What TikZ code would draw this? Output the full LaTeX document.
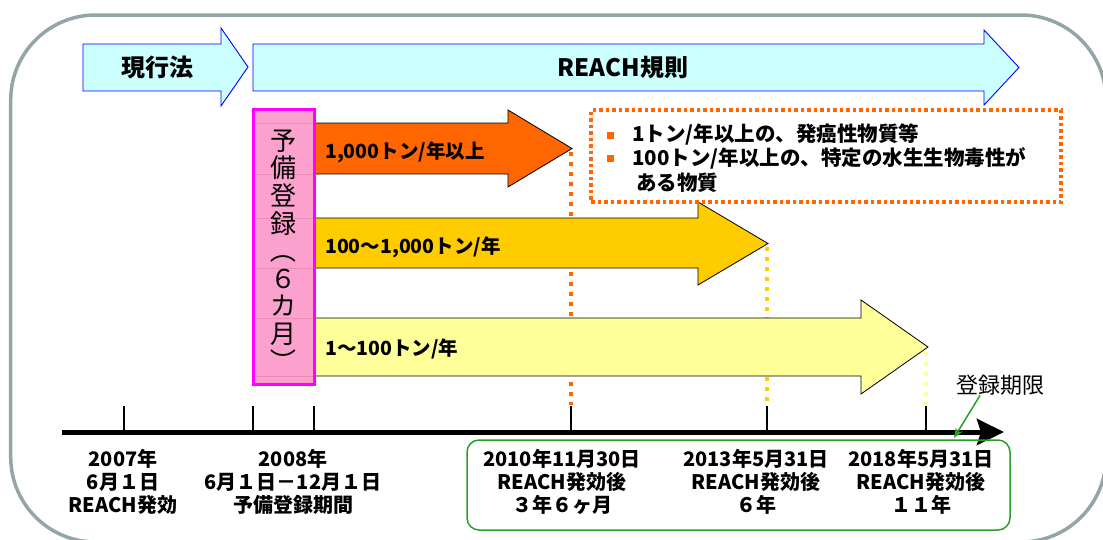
\documentclass[tikz,border=0pt]{standalone}
\usepackage{fontspec}
\usepackage{graphicx}
\setmainfont{Noto Sans CJK JP}
\usetikzlibrary{arrows.meta}
\definecolor{framegray}{RGB}{148,165,168}
\definecolor{lcyan}{RGB}{204,255,255}
\definecolor{pinkf}{RGB}{252,160,206}
\definecolor{pinkl}{RGB}{236,140,182}
\definecolor{mag}{RGB}{255,0,255}
\definecolor{orng}{RGB}{255,102,0}
\definecolor{gold}{RGB}{255,204,0}
\definecolor{lyel}{RGB}{255,255,153}
\definecolor{grn}{RGB}{40,160,40}
\begin{document}
\begin{tikzpicture}[x=1pt,y=-1pt,
  lawarrow/.style={draw=blue,fill=lcyan,line width=0.9pt},
  tonarrow/.style={draw=black,line width=0.8pt},
  dotline/.style={line width=4pt,dash pattern=on 4pt off 6pt},
  tick/.style={line width=1.6pt},
  lawlbl/.style={font=\bfseries\fontsize{24}{26}\selectfont,inner sep=0},
  tonlbl/.style={font=\bfseries\fontsize{19.5}{22}\selectfont,anchor=west,inner sep=0},
  notelbl/.style={font=\bfseries\fontsize{20.5}{22}\selectfont,anchor=west,inner sep=0},
  datelbl/.style={font=\bfseries\fontsize{20}{23}\selectfont,align=center,inner sep=0},
  bulletsq/.style={fill=orng,minimum size=7pt,inner sep=0}
]
\useasboundingbox (0,0) rectangle (1103,539);
% outer frame
\draw[framegray,line width=3.5pt,rounded corners=85pt] (10.7,15) rectangle (1106,542);

% law arrows
\draw[lawarrow] (83,44) -- (221,44) -- (221,28) -- (248,67) -- (221,106) -- (221,91) -- (83,91) -- cycle;
\node[lawlbl] (genko) at (157,67) {現行法};
\draw[lawarrow] (253,44) -- (984,44) -- (984,30) -- (1019,67.5) -- (984,105) -- (984,91) -- (253,91) -- cycle;
\node[lawlbl] (reach) at (623,68) {REACH規則};

% dotted deadline lines
\draw[dotline,orng] (571,152) -- (571,405);
\draw[dotline,gold] (767,247) -- (767,405);
\draw[dotline,lyel] (926,352) -- (926,405);

% tonnage arrows
\draw[tonarrow,fill=orng] (300,123) -- (508,123) -- (508,110) -- (572,148.5) -- (508,187) -- (508,174) -- (300,174) -- cycle;
\draw[tonarrow,fill=gold] (300,218) -- (698,218) -- (698,202) -- (768,243.5) -- (698,285) -- (698,268) -- (300,268) -- cycle;
\draw[tonarrow,fill=lyel] (300,318) -- (861,318) -- (861,300) -- (928,347) -- (861,394) -- (861,376) -- (300,376) -- cycle;
\node[tonlbl] (t1000) at (325,152) {1,000トン/年以上};
\node[tonlbl] (t100) at (325,247) {100～1,000トン/年};
\node[tonlbl] (t1) at (325,349) {1～100トン/年};

% pre-registration box
\node[draw=mag,line width=3pt,fill=pinkf,minimum width=61pt,minimum height=275pt,inner sep=0] (yobi) at (284,246.5) {};
\foreach \yy in {123,174,218,268,318,376}
  \draw[pinkl,line width=0.6pt] (255.5,\yy) -- (312.5,\yy);
\node[font=\fontsize{26}{27.6}\selectfont,align=center,inner sep=0] (yobitxt) at (283,252) {予\\備\\登\\録\\\rotatebox[origin=c]{-90}{（}\\６\\カ\\月\\\rotatebox[origin=c]{-90}{）}};

% notes box
\node[draw=orng,line width=3.5pt,dash pattern=on 3.5pt off 3pt,minimum width=470pt,minimum height=92pt,inner sep=0] (notes) at (826,156) {};
\node[bulletsq] (b1) at (610,135) {};
\node[bulletsq] (b2) at (610,158) {};
\node[notelbl] (n1) at (632,135) {1トン/年以上の、発癌性物質等};
\node[notelbl] (n2) at (632,158) {100トン/年以上の、特定の水生生物毒性が};
\node[notelbl] (n3) at (636,183) {ある物質};

% timeline
\foreach \xx in {124,253,314,571,767,926}
  \draw[tick] (\xx,406) -- (\xx,432);
\coordinate (tl0) at (62,432);
\coordinate (tl1) at (1004,432);
\draw[line width=5pt,-{Stealth[length=27pt,width=26pt,inset=4pt]}] (tl0) -- (tl1);

% date labels
\node[datelbl] (d1) at (123,482) {2007年\\6月１日\\REACH発効};
\node[datelbl] (d2) at (293,482) {2008年\\6月１日－12月１日\\予備登録期間};
\node[draw=grn,line width=1.5pt,rounded corners=12pt,minimum width=543pt,minimum height=90pt,inner sep=0] (gbox) at (738.5,485) {};
\node[datelbl] (d3) at (562,482) {2010年11月30日\\REACH発効後\\３年６ヶ月};
\node[datelbl] (d4) at (756,482) {2013年5月31日\\REACH発効後\\６年};
\node[datelbl] (d5) at (921,482) {2018年5月31日\\REACH発効後\\１１年};

% deadline label
\node[font=\fontsize{22}{24}\selectfont,inner sep=0] (kigen) at (1000,385) {登録期限};
\coordinate (kigenpt) at (954,438);
\draw[grn,line width=1.5pt,-{Stealth[length=10pt,width=8pt]}] ([xshift=-20pt]kigen.south) -- (kigenpt);
\end{tikzpicture}
\end{document}
